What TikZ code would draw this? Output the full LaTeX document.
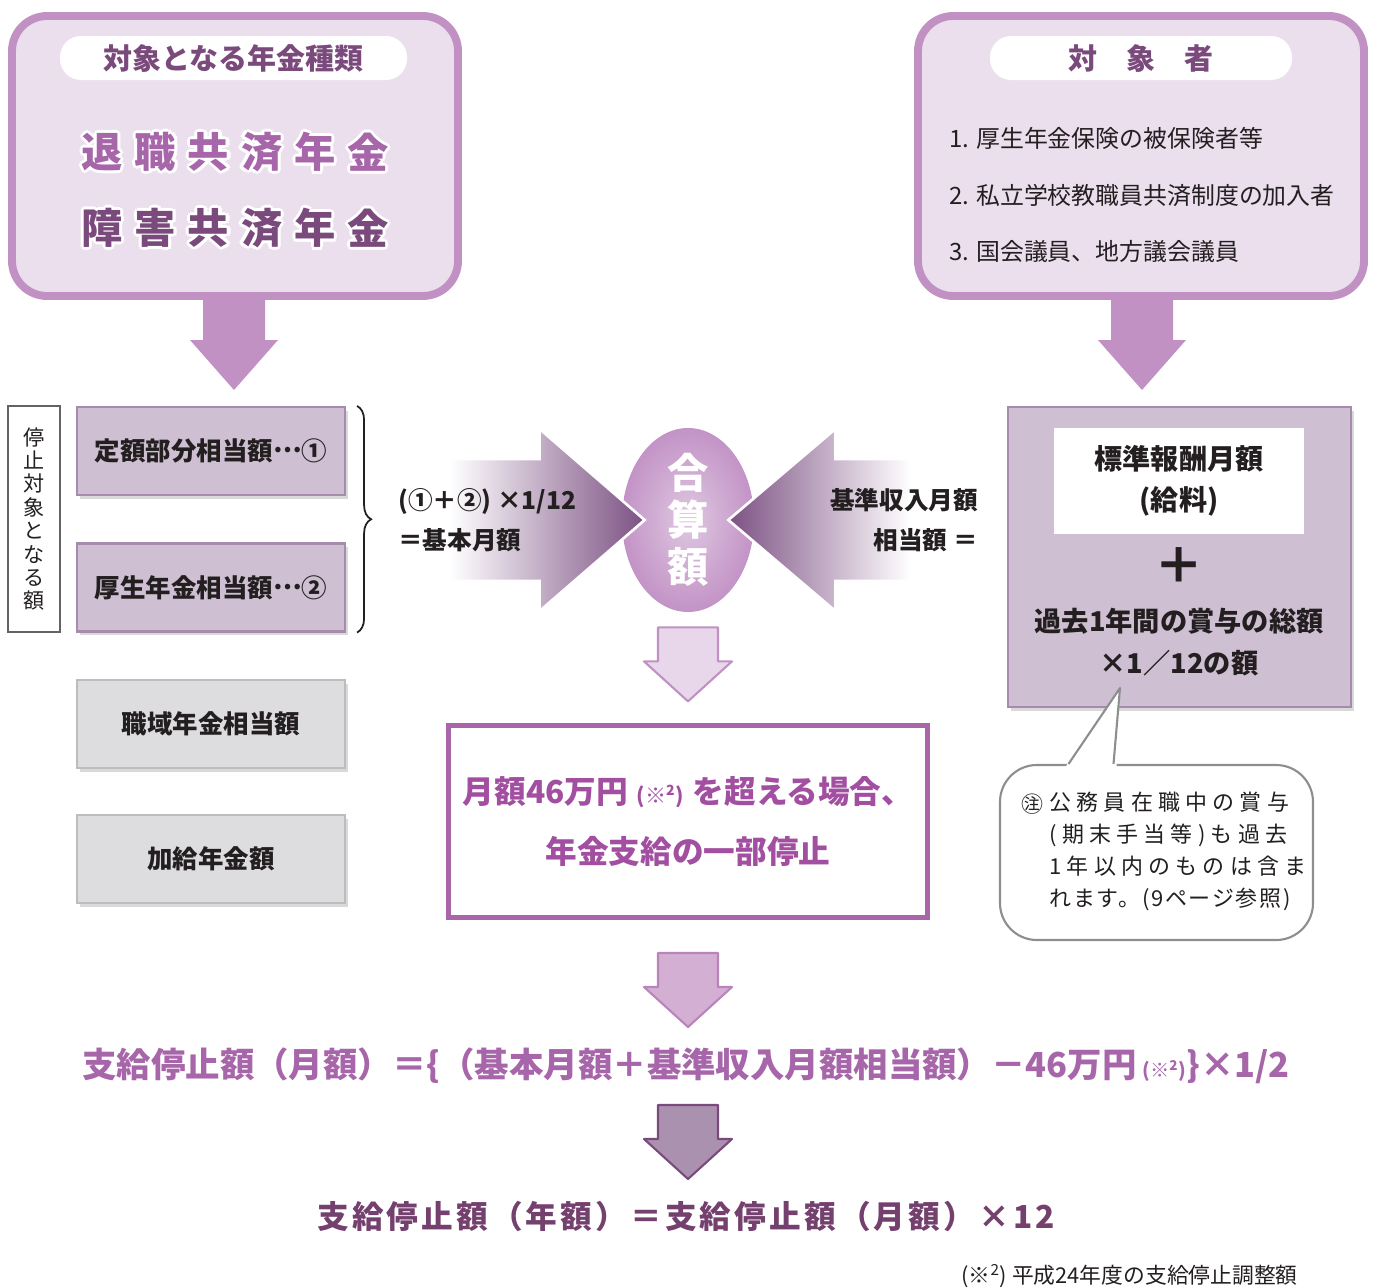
\documentclass[tikz,border=0pt]{standalone}
\usepackage{fontspec}
\setmainfont{Noto Sans CJK JP}
\usetikzlibrary{shapes.geometric,shadows,calc,decorations.pathreplacing}
\definecolor{panelline}{HTML}{C191C3}
\definecolor{panelfill}{HTML}{EBDFEE}
\definecolor{plumdark}{HTML}{7B4A7C}
\definecolor{plumlight}{HTML}{A766AA}
\definecolor{mauvefill}{HTML}{CEC0D2}
\definecolor{mauveline}{HTML}{A78BAD}
\definecolor{greyfill}{HTML}{DDDDDF}
\definecolor{greyline}{HTML}{BDBDBF}
\definecolor{arrowdark}{HTML}{7C5183}
\definecolor{ovalout}{HTML}{C393C6}
\definecolor{ovalin}{HTML}{DEC8E1}
\definecolor{stopline}{HTML}{A965A9}
\definecolor{stoptext}{HTML}{A24EA1}
\definecolor{finaltext}{HTML}{74406E}
\definecolor{textgrey}{HTML}{231F20}
\definecolor{notegrey}{HTML}{8E8E8E}
\definecolor{arrowpale}{HTML}{E8D7EA}
\definecolor{arrowmid}{HTML}{D3AFD4}
\definecolor{arrowdeep}{HTML}{AA91AF}
\newcommand\pxu{0.02cm}
\newcommand\middots{\raisebox{0.3em}{…}}

\begin{document}
\begin{tikzpicture}[
  x=0.02cm, y=-0.02cm,
  panel/.style={draw=panelline, fill=panelfill, line width=4.5pt,
    rounded corners=20pt, minimum width=446*\pxu, minimum height=280*\pxu},
  pill/.style={fill=white, rounded corners=12pt, minimum height=44*\pxu,
    text=plumdark, font=\fontsize{16.5pt}{20pt}\selectfont\bfseries},
  kanji/.style={font=\fontsize{23.5pt}{24pt}\selectfont\bfseries, inner sep=0pt},
  amount/.style={draw=mauveline, fill=mauvefill, line width=1.2pt,
    minimum width=268*\pxu, minimum height=88*\pxu,
    drop shadow={shadow xshift=1.5pt, shadow yshift=-2pt, opacity=0.3},
    text=textgrey, font=\fontsize{14.5pt}{18pt}\selectfont\bfseries},
  extra/.style={amount, draw=greyline, fill=greyfill},
  arrowtext/.style={text=textgrey, font=\fontsize{14pt}{22.7pt}\selectfont\bfseries},
  bigdown/.pic={\path[pic actions] (-31,0) -- (31,0) -- (31,44) -- (44,44)
    -- (0,94) -- (-44,44) -- (-31,44) -- cycle;},
  smalldown/.pic={\path[pic actions, line join=round] (-30,0) -- (30,0) -- (30,34)
    -- (44,34) -- (0,74) -- (-44,34) -- (-30,34) -- cycle;}
]
\useasboundingbox (0,0) rectangle (1376,1288);

\pic[fill=panelline] at (234,296) {bigdown};
\pic[fill=panelline] at (1142,296) {bigdown};

\node[panel] (kinds) at (235,156) {};
\node[pill, minimum width=347*\pxu] (kindstitle) at (233.5,58) {対象となる年金種類};
\foreach \ch [count=\i] in {退,職,共,済,年,金} {
  \foreach \a in {0,45,...,315}
    \path (49+53.2*\i,152) ++(\a:3.2) node[kanji, text=white] (ha-\i-\a) {\ch};
  \node[kanji, text=plumlight] (ka-\i) at (49+53.2*\i,152) {\ch};
}
\foreach \ch [count=\i] in {障,害,共,済,年,金} {
  \foreach \a in {0,45,...,315}
    \path (49+53.2*\i,228) ++(\a:3.2) node[kanji, text=white] (hb-\i-\a) {\ch};
  \node[kanji, text=plumdark] (kb-\i) at (49+53.2*\i,228) {\ch};
}

\node[panel] (targets) at (1141,156) {};
\node[pill, minimum width=302*\pxu] (targetstitle) at (1141,58) {対　象　者};
\node[anchor=west, align=left, text=textgrey,
  font=\fontsize{13.6pt}{32pt}\selectfont] (targetlist) at (943,195)
  {1. 厚生年金保険の被保険者等\\
   2. 私立学校教職員共済制度の加入者\\
   3. 国会議員、地方議会議員};

\node[draw=textgrey!70, line width=1pt, fill=white, minimum width=52*\pxu,
  minimum height=226*\pxu, align=center, inner sep=0pt, text=textgrey,
  font=\fontsize{12pt}{13.3pt}\selectfont] (stoplabel) at (34,519)
  {停\\止\\対\\象\\と\\な\\る\\額};
\node[amount] (fixed) at (211,451) {定額部分相当額\middots①};
\node[amount] (kosei) at (211,587.5) {厚生年金相当額\middots②};
\node[extra] (shokuiki) at (211,724) {職域年金相当額};
\node[extra] (kakyu) at (211,859) {加給年金額};
\draw[decorate, decoration={brace, amplitude=8pt}, line width=1pt, textgrey]
  ($(fixed.north east)+(11,0)$) -- ($(kosei.south east)+(11,0)$);

\node[ellipse, inner color=ovalin, outer color=ovalout, minimum width=132*\pxu,
  minimum height=184*\pxu] (sum) at (688,520) {};
\begin{scope}[shift={(sum.west)}]
  \shadedraw[left color=white, right color=arrowdark, draw=white, line width=1.5pt]
    (-172,-61) -- (-82,-61) -- (-82,-91) -- (23,0) -- (-82,91) -- (-82,61)
    -- (-172,61) -- cycle;
\end{scope}
\begin{scope}[shift={(sum.east)}]
  \shadedraw[left color=arrowdark, right color=white, draw=white, line width=1.5pt]
    (156,-61) -- (81,-61) -- (81,-91) -- (-26,0) -- (81,91) -- (81,61)
    -- (156,61) -- cycle;
\end{scope}
\node[align=center, text=white, inner sep=0pt,
  font=\fontsize{23.5pt}{26.6pt}\selectfont\bfseries] (sumtext) at (sum) {合\\算\\額};
\node[arrowtext, anchor=west, align=left] (basic) at (392,520)
  {(①＋②) ×1/12\\＝基本月額};
\node[arrowtext, anchor=east, align=right] (incometext) at (984,520)
  {基準収入月額\\相当額 ＝};

\node[draw=mauveline, fill=mauvefill, line width=1.5pt, minimum width=343*\pxu,
  minimum height=300*\pxu,
  drop shadow={shadow xshift=1.5pt, shadow yshift=-2pt, opacity=0.3}] (income) at (1179.5,557) {};
\node[fill=white, minimum width=250*\pxu, minimum height=106*\pxu, align=center,
  text=textgrey, font=\fontsize{16pt}{23.5pt}\selectfont\bfseries] (salary) at (1179,481)
  {標準報酬月額\\(給料)};
\node[text=textgrey, font=\fontsize{28pt}{28pt}\selectfont\bfseries] (plus) at (1179,566) {＋};
\node[align=center, text=textgrey, font=\fontsize{15.5pt}{23.8pt}\selectfont\bfseries]
  (bonus) at (1179,642) {過去1年間の賞与の総額\\×1／12の額};

\node[draw=notegrey, line width=1.2pt, fill=white, rounded corners=21pt,
  minimum width=313*\pxu, minimum height=175*\pxu] (note) at (1156.5,852.5) {};
\coordinate (ptip) at (1120,688);
\fill[white] ($(note.north)+(-91,3)$) -- (ptip) -- ($(note.north)+(-40,3)$) -- cycle;
\draw[notegrey, line width=1.2pt, line join=round]
  ($(note.north)+(-88,0)$) -- (ptip) -- ($(note.north)+(-43,0)$);
\node[text=textgrey, font=\fontsize{12.5pt}{18.1pt}\selectfont, inner sep=0pt]
  (notemark) at (1032,804) {㊟};
\node[anchor=north west, align=left, inner sep=0pt, text=textgrey,
  font=\fontsize{12.5pt}{18.1pt}\selectfont\addfontfeatures{LetterSpace=24}]
  (notetext) at (1049,792)
  {公務員在職中の賞与\\(期末手当等)も過去\\1年以内のものは含ま\\
   {\addfontfeatures{LetterSpace=8}れます。(9ページ参照)}};

\pic[fill=arrowpale, draw=panelline, line width=1.2pt] at ($(sum.south)+(0,15)$) {smalldown};
\node[draw=stopline, line width=2.8pt, fill=white, minimum width=479*\pxu,
  minimum height=192*\pxu, align=center, text=stoptext,
  font=\fontsize{18pt}{34.6pt}\selectfont\bfseries] (stop) at (688,821.5)
  {月額46万円\;{\fontsize{12pt}{12pt}\selectfont (※\textsuperscript{2})}\;を超える場合、\\年金支給の一部停止};

\pic[fill=arrowmid, draw=stopline!80, line width=1.2pt] at (688,953) {smalldown};
\node[text=plumlight, font=\fontsize{19.6pt}{24pt}\selectfont\bfseries] (monthly) at (686,1066)
  {支給停止額（月額）＝\{（基本月額＋基準収入月額相当額）－46万円\,{\fontsize{11pt}{11pt}\selectfont(※\textsuperscript{2})}\}×1/2};
\pic[fill=arrowdeep, draw=plumdark, line width=1.2pt] at (688,1105) {smalldown};
\node[text=finaltext, font=\fontsize{18pt}{22pt}\selectfont\bfseries\addfontfeatures{LetterSpace=10}]
  (annual) at (686,1216) {支給停止額（年額）＝支給停止額（月額）×12};
\node[anchor=east, text=textgrey, font=\fontsize{12.4pt}{14pt}\selectfont] (foot) at (1304,1276)
  {(※\textsuperscript{2}) 平成24年度の支給停止調整額};
\end{tikzpicture}
\end{document}
